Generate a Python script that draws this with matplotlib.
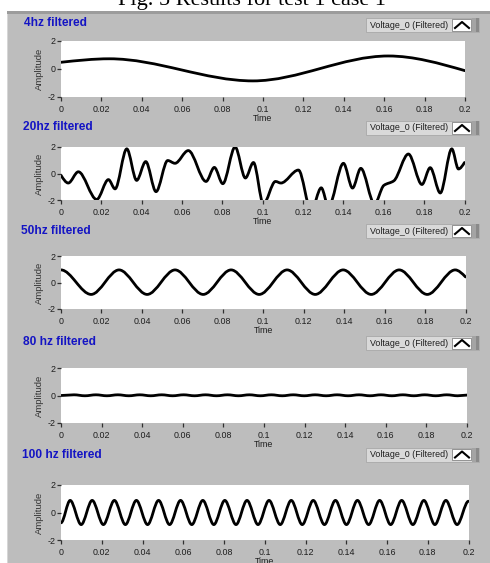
import matplotlib
matplotlib.use('Agg')
import matplotlib.pyplot as plt
from matplotlib.path import Path
from matplotlib.patches import PathPatch, Rectangle
from matplotlib.lines import Line2D

plt.rcParams['font.family'] = ['Liberation Sans', 'DejaVu Sans']
SMALL = ['Liberation Sans Narrow', 'Liberation Sans', 'DejaVu Sans']

W, H = 490, 563

# turning points (time, amplitude)
t4 = [0.0, 0.024, 0.095, 0.162, 0.2]
v4 = [0.48, 0.73, -0.85, 0.93, -0.12]

t20 = [0.0, 0.0036, 0.0086, 0.0177, 0.0235, 0.0268, 0.0326, 0.0375, 0.0420,
       0.0471, 0.0529, 0.0565, 0.0631, 0.0719, 0.0760, 0.0802, 0.0863, 0.0914,
       0.0954, 0.1003, 0.1063, 0.1090, 0.1177, 0.1240, 0.1290, 0.1326, 0.1400,
       0.1445, 0.1486, 0.1554, 0.1600, 0.1650, 0.1722, 0.1789, 0.1830, 0.1880,
       0.1937, 0.1970, 0.2]
v20 = [-0.13, -0.72, 0.13, -1.96, -0.46, -1.16, 1.86, -0.52, 0.90,
       -1.37, 0.98, 0.77, 1.73, -0.60, 0.46, -0.77, 2.0, -0.34,
       0.83, -2.3, -0.6, -0.72, 0.26, -2.8, -1.08, -2.5, 0.77,
       -1.1, 0.39, -2.3, -0.9, -0.55, 1.47, -0.83, 0.44, -1.47,
       1.86, 0.34, 0.83]

t50 = [0.0, 0.0149, 0.0287, 0.0426, 0.0564, 0.0703, 0.0841, 0.0980, 0.1118,
       0.1257, 0.1395, 0.1534, 0.1672, 0.1811, 0.1949, 0.2]
v50 = [0.95, -0.9, 0.95, -0.9, 0.95, -0.9, 0.95, -0.9, 0.95,
       -0.9, 0.95, -0.9, 0.95, -0.9, 0.95, 0.42]

t80 = [0.0, 0.0064, 0.0118, 0.0172, 0.0226, 0.0280, 0.0334, 0.0388, 0.0442,
       0.0496, 0.0550, 0.0604, 0.0658, 0.0712, 0.0766, 0.0820, 0.0874, 0.0928,
       0.0982, 0.1036, 0.1090, 0.1144, 0.1198, 0.1252, 0.1306, 0.1360, 0.1414,
       0.1468, 0.1522, 0.1576, 0.1630, 0.1684, 0.1738, 0.1792, 0.1846, 0.1900,
       0.1954, 0.2]
v80 = [0.0, 0.05, -0.02, 0.05, -0.02, 0.05, -0.02, 0.05, -0.02,
       0.05, -0.02, 0.05, -0.02, 0.05, -0.02, 0.05, -0.02, 0.05,
       -0.02, 0.05, -0.02, 0.05, -0.02, 0.05, -0.02, 0.05, -0.02,
       0.05, -0.02, 0.05, -0.02, 0.05, -0.02, 0.05, -0.02, 0.05,
       -0.02, 0.03]

t100 = [0.0, 0.0045, 0.0099, 0.0153, 0.0208, 0.0262, 0.0316, 0.0370, 0.0425,
        0.0479, 0.0533, 0.0587, 0.0642, 0.0696, 0.0750, 0.0804, 0.0859, 0.0913,
        0.0967, 0.1021, 0.1076, 0.1130, 0.1184, 0.1238, 0.1293, 0.1347, 0.1401,
        0.1455, 0.1510, 0.1564, 0.1618, 0.1672, 0.1727, 0.1781, 0.1835, 0.1889,
        0.1944, 0.2]
v100 = [-0.75, 0.88, -0.88, 0.88, -0.88, 0.88, -0.88, 0.88, -0.88,
        0.88, -0.88, 0.88, -0.88, 0.88, -0.88, 0.88, -0.88, 0.88,
        -0.88, 0.88, -0.88, 0.88, -0.88, 0.88, -0.88, 0.88, -0.88,
        0.88, -0.88, 0.88, -0.88, 0.88, -0.88, 0.88, -0.88, 0.88,
        -0.88, 0.82]

titles = ['4hz filtered', '20hz filtered', '50hz filtered',
          '80 hz filtered', '100 hz filtered']
x_ticks = [0, 0.02, 0.04, 0.06, 0.08, 0.1, 0.12, 0.14, 0.16, 0.18, 0.2]
x_labels = ['0', '0.02', '0.04', '0.06', '0.08', '0.1', '0.12', '0.14',
            '0.16', '0.18', '0.2']
y_ticks = [-2, 0, 2]
y_labels = ['-2', '0', '2']
legend_text = 'Voltage_0 (Filtered)'

series = [(t4, v4), (t20, v20), (t50, v50), (t80, v80), (t100, v100)]
flat_ends = [(False, False), (False, False), (True, False), (True, True), (True, True)]

# layout in screenshot pixels
axes_px = [(61, 41, 465, 97), (61, 147, 464.5, 200), (61, 256, 465.5, 309),
           (61, 368, 467, 423), (61, 485, 468.5, 540)]
title_px = [(24, 23), (22.5, 127), (20.5, 231), (22.5, 342), (21.5, 455)]
legend_y = [25, 128, 231, 343, 454.5]

GRAY = '#bdbdbd'
BLUE = '#1414c4'


def fx(x):
    return x / W


def fy(y):
    return 1 - y / H


def smooth_path(ts, vs, flat_start, flat_end):
    # cubic Hermite segments through the turning points, drawn as Bezier curves
    n = len(ts)
    d = [(vs[i + 1] - vs[i]) / (ts[i + 1] - ts[i]) for i in range(n - 1)]
    m = [0.0] * n
    for i in range(1, n - 1):
        if d[i - 1] * d[i] > 0:
            m[i] = 2 / (1 / d[i - 1] + 1 / d[i])
    if not flat_start:
        m[0] = 1.5 * d[0] - 0.5 * m[1]
    if not flat_end:
        m[-1] = 1.5 * d[-1] - 0.5 * m[-2]
    verts = [(ts[0], vs[0])]
    codes = [Path.MOVETO]
    for i in range(n - 1):
        h = (ts[i + 1] - ts[i]) / 3
        verts += [(ts[i] + h, vs[i] + m[i] * h),
                  (ts[i + 1] - h, vs[i + 1] - m[i + 1] * h),
                  (ts[i + 1], vs[i + 1])]
        codes += [Path.CURVE4] * 3
    return Path(verts, codes)


def prect(x0, y0, x1, y1, z=1, **kw):
    fig.add_artist(Rectangle((fx(x0), fy(y1)), fx(x1 - x0), (y1 - y0) / H,
                             transform=fig.transFigure, zorder=z, **kw))


fig = plt.figure(figsize=(W / 100, H / 100), dpi=100, facecolor='white')

# LabVIEW panel background, kept behind the axes
prect(6.5, 12, W, H, z=-10, facecolor=GRAY, edgecolor='none')
prect(6.5, 11.5, W, 14, z=-9, facecolor='#9c9c9c', edgecolor='none')
prect(6.5, 14, 8, H, z=-9, facecolor='#d6d6d6', edgecolor='none')

# caption of the figure, cut off at the top as in the screenshot
fig.text(fx(252), fy(4.5), 'Fig. 5 Results for test 1 case 1', ha='center',
         va='baseline', fontsize=16, family='Liberation Serif', color='black')

for k in range(5):
    x0, y0, x1, y1 = axes_px[k]
    ax = fig.add_axes([fx(x0), fy(y1), fx(x1 - x0), (y1 - y0) / H])
    ax.set_facecolor('white')
    ax.set_xlim(0, 0.2)
    ax.set_ylim(-2, 2)
    for sp in ax.spines.values():
        sp.set_visible(False)
    ax.set_xticks(x_ticks)
    ax.set_xticklabels(x_labels, family=SMALL)
    ax.set_yticks(y_ticks)
    ax.set_yticklabels(y_labels, family=SMALL)
    ax.tick_params(direction='out', length=2.8, width=0.9, color='#303030',
                   labelsize=6.4, labelcolor='#1e1e1e')
    ax.tick_params(axis='x', pad=2.8)
    ax.tick_params(axis='y', pad=0.8)
    ax.set_xlabel('Time', fontsize=6.4, color='#1e1e1e', labelpad=0.2,
                  family=SMALL)
    ax.set_ylabel('Amplitude', fontsize=6.8, color='#333333', labelpad=3.0,
                  family=SMALL)

    ts, vs = series[k]
    fs, fe = flat_ends[k]
    ax.add_patch(PathPatch(smooth_path(ts, vs, fs, fe), fill=False,
                           edgecolor='black', lw=2.0, joinstyle='round',
                           capstyle='round'))

    tx, tyy = title_px[k]
    fig.text(fx(tx), fy(tyy), titles[k], color=BLUE, fontweight='bold',
             fontsize=8.6, va='center', ha='left')

    # legend button
    c = legend_y[k]
    prect(366, c - 7, 479, c + 7, facecolor='#d9d9d9', edgecolor='#a8a8a8', lw=0.6)
    prect(472, c - 7, 479, c + 7, facecolor='#a4a4a4', edgecolor='none')
    prect(476, c - 7, 479, c + 7, facecolor='#8a8a8a', edgecolor='none')
    prect(452, c - 5.5, 471, c + 5.5, facecolor='white', edgecolor='#707070', lw=0.5)
    fig.add_artist(Line2D([fx(455), fx(462), fx(469)],
                          [fy(c + 3), fy(c - 3), fy(c + 3)],
                          transform=fig.transFigure, color='black', lw=1.5,
                          solid_joinstyle='round', zorder=3))
    fig.text(fx(409.5), fy(c), legend_text, fontsize=6.4, color='#1e1e1e',
             ha='center', va='center', family=SMALL)

fig.savefig('out.png', dpi=100, facecolor='white')
